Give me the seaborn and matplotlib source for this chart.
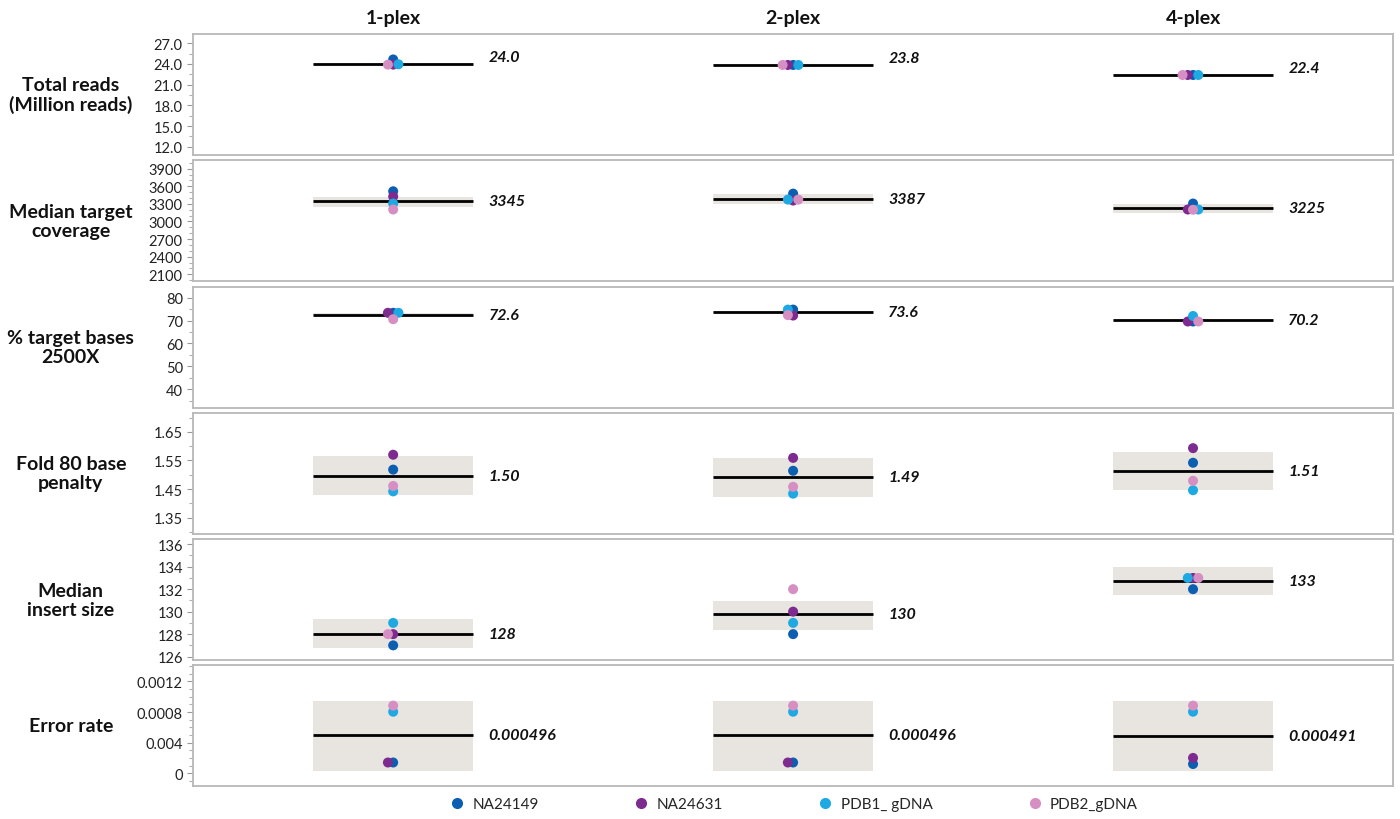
import numpy as np
import pandas as pd
import matplotlib
matplotlib.use("Agg")
import matplotlib.pyplot as plt
from matplotlib.collections import PathCollection
from matplotlib.lines import Line2D
from matplotlib.ticker import FixedLocator, MultipleLocator
import seaborn as sns

# ---------------------------------------------------------------------------
# Data
# ---------------------------------------------------------------------------
plex_groups = ["1-plex", "2-plex", "4-plex"]
samples = ["NA24149", "NA24631", "PDB1_ gDNA", "PDB2_gDNA"]
sample_colors = ["#0b5eb0", "#7d2b8f", "#1fa9e2", "#d68fc3"]

metric_names = ["Total reads\n(Million reads)", "Median target\ncoverage",
                "% target bases\n2500X", "Fold 80 base\npenalty",
                "Median\ninsert size", "Error rate"]

# per metric: one list per plex group, values in sample order
total_reads = [[24.65, 23.9, 23.95, 23.9], [23.85, 23.85, 23.85, 23.85], [22.4, 22.4, 22.4, 22.4]]
median_cov = [[3515, 3425, 3306, 3204], [3475, 3357, 3373, 3373], [3306, 3204, 3204, 3200]]
pct_2500x = [[73.4, 73.4, 73.4, 70.6], [74.8, 72.2, 74.8, 72.4], [69.6, 69.6, 72.0, 69.6]]
fold80 = [[1.518, 1.570, 1.442, 1.461], [1.514, 1.559, 1.434, 1.458], [1.542, 1.593, 1.446, 1.479]]
insert_size = [[127, 128, 129, 128], [128, 130, 129, 132], [132, 133, 133, 133]]
error_rate = [[0.00014, 0.00014, 0.000804, 0.000884], [0.00014, 0.00014, 0.000804, 0.000884],
              [0.00012, 0.0002, 0.000804, 0.000884]]

# group means (black line + label) and shaded band limits
means = [[24.0, 23.8, 22.4], [3345, 3387, 3225], [72.6, 73.6, 70.2],
         [1.496, 1.493, 1.514], [128, 129.75, 132.75], [0.000496, 0.000496, 0.000491]]
band_lo = [[23.85, 23.65, 22.25], [3255, 3305, 3136], [72.1, 73.1, 69.7],
           [1.429, 1.424, 1.446], [126.8, 128.4, 131.5], [0.000034, 0.000034, 0.000034]]
band_hi = [[24.15, 23.95, 22.55], [3425, 3475, 3306], [73.1, 74.1, 70.7],
           [1.565, 1.559, 1.580], [129.33, 130.97, 134.0], [0.00095, 0.00095, 0.00095]]
label_fmt = ["{:.1f}", "{:.0f}", "{:.1f}", "{:.2f}", "{:.0f}", "{:.6f}"]

# axis ticks
y_limits = [(10.8, 28.3), (1980, 4040), (32, 84.8), (1.294, 1.716), (125.7, 136.45), (-0.00017, 0.00141)]
y_ticks = [[12, 15, 18, 21, 24, 27], [2100, 2400, 2700, 3000, 3300, 3600, 3900], [40, 50, 60, 70, 80],
           [1.35, 1.45, 1.55, 1.65], [126, 128, 130, 132, 134, 136], [0, 0.0004, 0.0008, 0.0012]]
y_ticklabels = [["12.0", "15.0", "18.0", "21.0", "24.0", "27.0"],
                ["2100", "2400", "2700", "3000", "3300", "3600", "3900"],
                ["40", "50", "60", "70", "80"],
                ["1.35", "1.45", "1.55", "1.65"],
                ["126", "128", "130", "132", "134", "136"],
                ["0", "0.004", "0.0008", "0.0012"]]
minor_steps = [1.5, 100, 5, 0.05, 1, 0.0001]

all_values = [total_reads, median_cov, pct_2500x, fold80, insert_size, error_rate]

# ---------------------------------------------------------------------------
# Plot
# ---------------------------------------------------------------------------
sns.set_theme(style="white")
plt.rcParams["font.family"] = ["Lato", "DejaVu Sans"]

fig, axes = plt.subplots(6, 1, figsize=(14, 8.2), dpi=100)
fig.subplots_adjust(left=0.138, right=0.995, top=0.957, bottom=0.040, hspace=0.045)

half_w = 0.2
marker_pt = 7.2     # drawn marker diameter
swarm_pt = 3.6      # spacing used for the swarm layout (points overlap like JMP)

for r, ax in enumerate(axes):
    rows = []
    for g, grp in enumerate(plex_groups):
        for s, smp in enumerate(samples):
            rows.append({"plex": grp, "sample": smp, "value": all_values[r][g][s]})
    df = pd.DataFrame(rows)

    # shaded band and mean line per group
    for g in range(len(plex_groups)):
        ax.fill_between([g - half_w, g + half_w], band_lo[r][g], band_hi[r][g],
                        color="#e8e5e1", lw=0, zorder=0.5)
        ax.hlines(means[r][g], g - half_w, g + half_w, color="black", lw=2, zorder=1)
        ax.text(g + half_w + 0.038, means[r][g], label_fmt[r].format(means[r][g]),
                fontsize=11.5, fontweight="bold", fontstyle="italic",
                va="bottom" if r == 0 else "center", ha="left", color="#111111")

    sns.swarmplot(data=df, x="plex", y="value", hue="sample", order=plex_groups,
                  hue_order=samples, palette=sample_colors, size=swarm_pt, legend=False,
                  ax=ax, zorder=3, linewidth=0)

    ax.set_xlim(-0.5, 2.5)
    ax.set_ylim(*y_limits[r])
    ax.set_xticks([])
    ax.set_xlabel("")
    ax.set_ylabel("")
    ax.yaxis.set_major_locator(FixedLocator(y_ticks[r]))
    ax.set_yticklabels(y_ticklabels[r])
    ax.yaxis.set_minor_locator(MultipleLocator(minor_steps[r]))
    ax.tick_params(axis="y", which="major", direction="out", length=4, width=0.8,
                   color="#9a9a9a", labelsize=10.5, labelcolor="#222222", left=True)
    ax.tick_params(axis="y", which="minor", direction="out", length=3, width=0.8,
                   color="#b0b0b0", left=True)
    for sp in ax.spines.values():
        sp.set_color("#b8b8b8")
        sp.set_linewidth(1.3)

    ax.text(-0.102, 0.5, metric_names[r], transform=ax.transAxes, ha="center", va="center",
            fontsize=14, fontweight="bold", color="#111111", linespacing=1.15)

# column titles
for g, grp in enumerate(plex_groups):
    axes[0].text(g, 1.135, grp, transform=axes[0].get_xaxis_transform(), ha="center",
                 va="center", fontsize=14, fontweight="bold", color="#111111")

# run the swarm layout once with the tight spacing, then enlarge the markers
fig.canvas.draw()
for ax in axes:
    for coll in ax.collections:
        if isinstance(coll, PathCollection):
            if "draw" in coll.__dict__:
                del coll.draw
            coll.set_sizes([marker_pt ** 2])

# legend
handles = [Line2D([0], [0], marker="o", ls="", color=c, markersize=7) for c in sample_colors]
fig.legend(handles, samples, loc="center", bbox_to_anchor=(0.567, 0.018), ncol=4,
           frameon=False, columnspacing=6.2, handlelength=1.0, handletextpad=0.5, fontsize=11)

plt.savefig("out.png", dpi=100)
plt.close()
